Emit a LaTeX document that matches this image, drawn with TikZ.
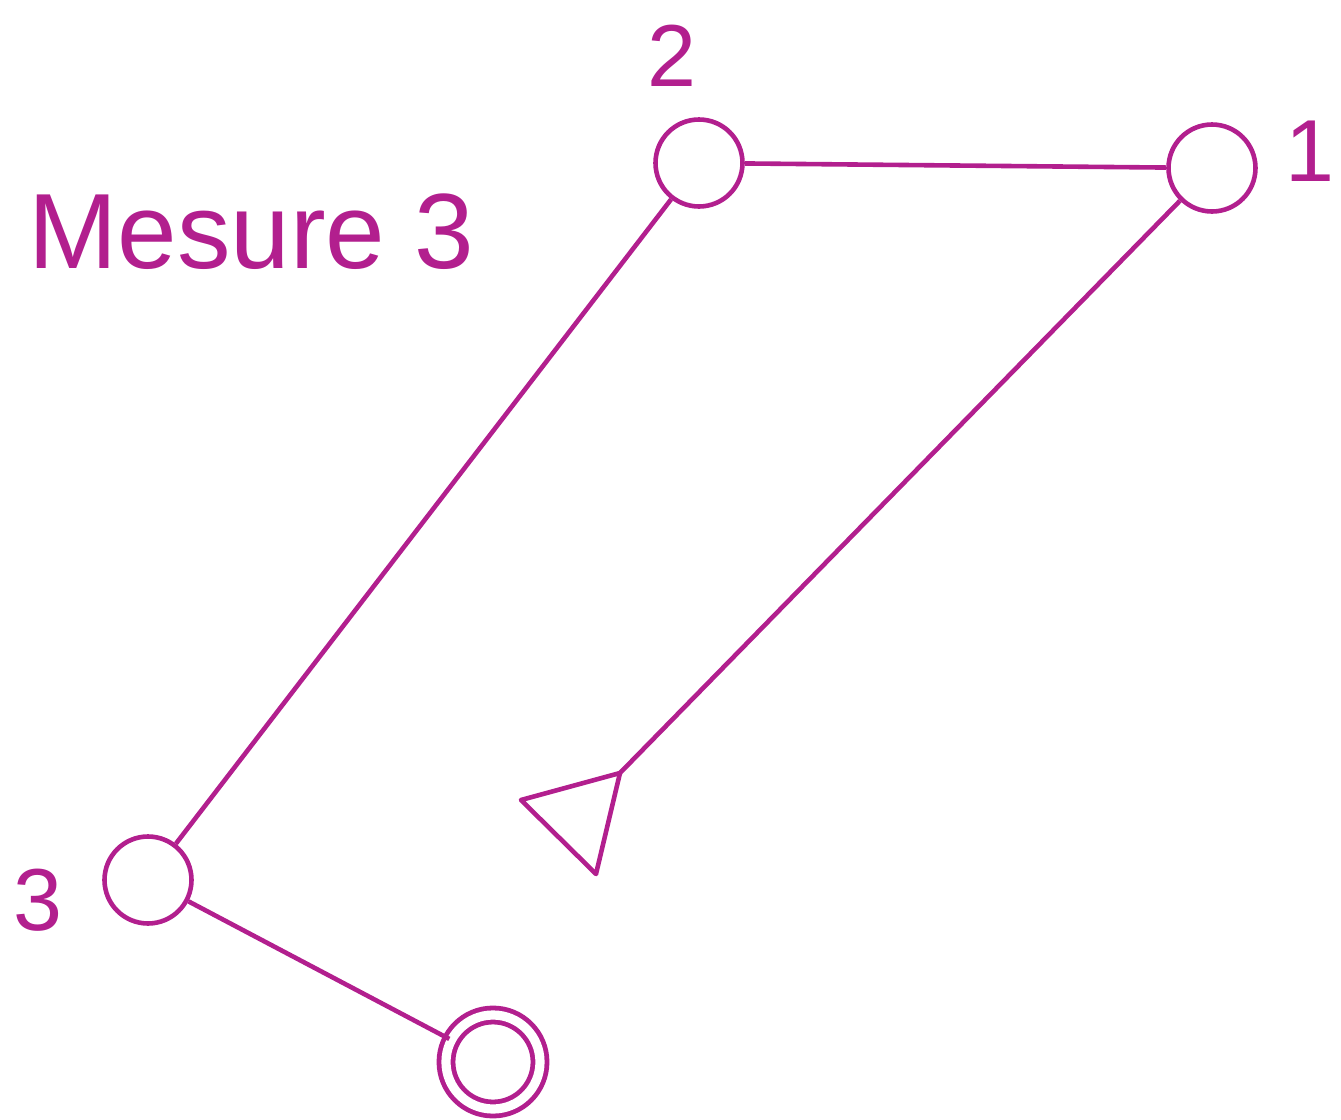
\documentclass[tikz,border=0pt]{standalone}
\usepackage{fontspec}
\setmainfont{Liberation Sans}
\usetikzlibrary{positioning}
\definecolor{mesc}{RGB}{178,31,142}
\tikzset{
  stn/.style={circle,draw=mesc,line width=2.3pt,minimum size=43.5pt,inner sep=0pt,fill=white},
  endstn/.style={circle,draw=mesc,line width=2.4pt,double=white,double distance=4.6pt,minimum size=47pt,inner sep=0pt},
  num/.style={text=mesc,inner sep=0pt,font=\fontsize{44}{48}\selectfont},
  conn/.style={draw=mesc,line width=2.3pt}
}
\begin{document}
\begin{tikzpicture}[x=0.5pt,y=-0.5pt,line join=round]
\useasboundingbox (0,0) rectangle (1341,1120);
% stations
\node[stn] (n2) at (699,163) {};
\node[stn] (n1) at (1212,168) {};
\node[stn] (n3) at (148,880) {};
\node[endstn] (fin) at (493,1062) {};
\coordinate (tip) at (620,773);
% labels
\node[num] (l2) at (672,56) {2};
\node[num] (l1) at (1310,151) {1};
\node[num] (l3) at (38,900) {3};
\node[text=mesc,inner sep=0pt,anchor=base west,font=\fontsize{53.5}{60}\selectfont] (title) at (28,268) {Mesure 3};
% legs
\draw[conn] (n2) -- (n1);
\draw[conn] (n2) -- (n3);
\draw[conn] (n3) -- (fin);
\draw[conn] (n1) -- (tip);
\draw[conn] (tip) -- (521,800) -- (596,874) -- cycle;
\end{tikzpicture}
\end{document}
